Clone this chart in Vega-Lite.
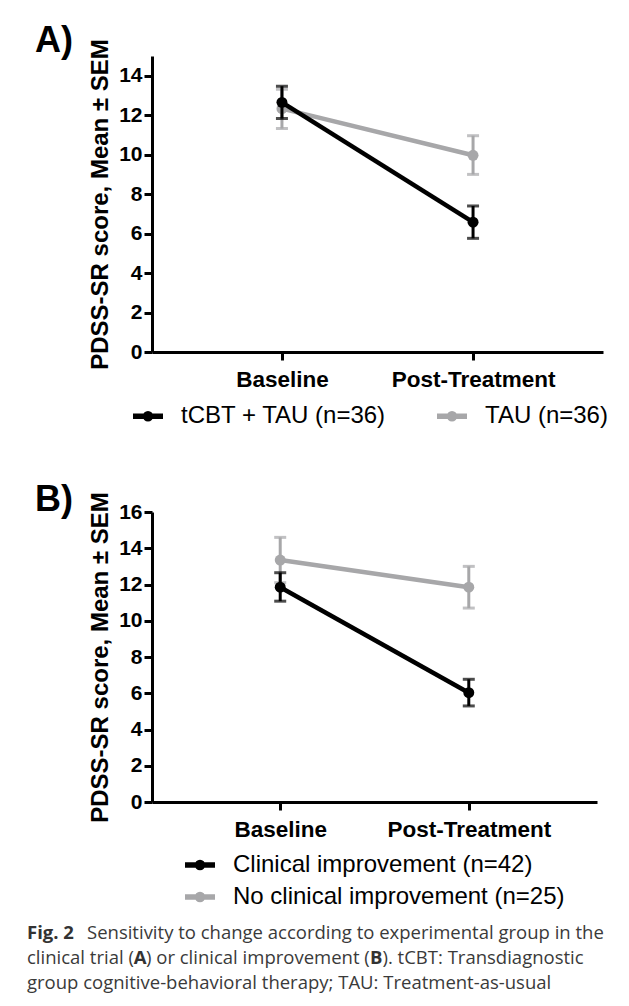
{
  "$schema": "https://vega.github.io/schema/vega-lite/v6.json",
  "padding": {"left": 27, "top": 22, "right": 0, "bottom": 0},
  "background": "white",
  "spacing": 9,
  "resolve": {"scale": {"color": "independent", "x": "independent", "y": "independent"}, "legend": {"color": "independent"}},
  "datasets": {
    "panelA": [
      {"group": "tCBT + TAU (n=36)", "time": "Baseline", "mean": 12.65, "lo": 11.83, "hi": 13.47},
      {"group": "tCBT + TAU (n=36)", "time": "Post-Treatment", "mean": 6.58, "lo": 5.76, "hi": 7.40},
      {"group": "TAU (n=36)", "time": "Baseline", "mean": 12.33, "lo": 11.32, "hi": 13.32},
      {"group": "TAU (n=36)", "time": "Post-Treatment", "mean": 9.97, "lo": 9.0, "hi": 10.96}
    ],
    "panelB": [
      {"group": "Clinical improvement (n=42)", "time": "Baseline", "mean": 11.85, "lo": 11.08, "hi": 12.65},
      {"group": "Clinical improvement (n=42)", "time": "Post-Treatment", "mean": 6.03, "lo": 5.3, "hi": 6.77},
      {"group": "No clinical improvement (n=25)", "time": "Baseline", "mean": 13.35, "lo": 12.1, "hi": 14.6},
      {"group": "No clinical improvement (n=25)", "time": "Post-Treatment", "mean": 11.85, "lo": 10.7, "hi": 13.0}
    ],
    "caption": [
      {"line": 1, "part": "label", "text": "Fig. 2"},
      {"line": 1, "part": "rest1", "text": "Sensitivity to change according to experimental group in the"},
      {"line": 2, "part": "s1", "text": "clinical trial ("},
      {"line": 2, "part": "bA", "text": "A"},
      {"line": 2, "part": "s2", "text": ") or clinical improvement ("},
      {"line": 2, "part": "bB", "text": "B"},
      {"line": 2, "part": "s3", "text": "). tCBT: Transdiagnostic"},
      {"line": 3, "part": "body", "text": "group cognitive-behavioral therapy; TAU: Treatment-as-usual"}
    ]
  },
  "config": {
    "view": {"stroke": null},
    "font": "Liberation Sans",
    "axis": {
      "domainColor": "black", "domainWidth": 3, "tickColor": "black", "tickWidth": 3, "tickSize": 8,
      "labelFont": "Liberation Sans", "labelFontWeight": "bold", "labelFontSize": 21, "labelColor": "black",
      "titleFont": "Liberation Sans", "titleColor": "black", "grid": false
    },
    "legend": {
      "orient": "none", "title": null,
      "symbolType": "M-1,0H1M-0.17,0A0.17,0.17 0 1,1 0.17,0A0.17,0.17 0 1,1 -0.17,0",
      "symbolSize": 900, "symbolStrokeWidth": 5.5, "symbolOpacity": 1,
      "labelFontSize": 24, "labelFont": "Liberation Sans", "labelColor": "black", "labelOffset": 15, "labelLimit": 400
    },
    "text": {"align": "left", "baseline": "middle", "font": "Open Sans", "fontSize": 18.5, "color": "#3a3a3a"},
    "title": {"font": "Liberation Sans", "fontWeight": "bold", "fontSize": 36, "color": "black", "anchor": "start", "frame": "group", "dx": -117}
  },
  "vconcat": [
    {
      "width": 451, "height": 296,
      "title": {"text": "A)", "offset": -21},
      "data": {"name": "panelA"},
      "encoding": {
        "x": {"field": "time", "type": "nominal", "sort": ["Baseline", "Post-Treatment"], "scale": {"type": "point", "padding": 0.68}, "axis": {"title": null, "labelAngle": 0, "labelPadding": 8, "labelFontSize": 22.5}},
        "y": {"field": "mean", "type": "quantitative", "scale": {"domain": [0, 15], "nice": false}, "axis": {"title": "PDSS-SR score, Mean ± SEM", "titleFontSize": 24, "titleFontWeight": "bold", "titlePadding": 6, "labelPadding": 2, "values": [0, 2, 4, 6, 8, 10, 12, 14]}},
        "color": {"field": "group", "type": "nominal", "scale": {"domain": ["tCBT + TAU (n=36)", "TAU (n=36)"], "range": ["#000000", "#a7a7a9"]}, "legend": {"legendX": -64, "legendY": 300, "padding": 42, "direction": "horizontal", "columnPadding": 40}}
      },
      "layer": [
        {
          "transform": [{"filter": "datum.group === 'TAU (n=36)'"}],
          "layer": [
            {"mark": {"type": "errorbar", "ticks": {"size": 12}, "thickness": 3}, "encoding": {"y": {"field": "lo", "type": "quantitative"}, "y2": {"field": "hi"}}},
            {"mark": {"type": "line", "strokeWidth": 4.5}},
            {"mark": {"type": "point", "filled": true, "size": 120, "opacity": 1}}
          ]
        },
        {
          "transform": [{"filter": "datum.group === 'tCBT + TAU (n=36)'"}],
          "layer": [
            {"mark": {"type": "errorbar", "ticks": {"size": 12}, "thickness": 3}, "encoding": {"y": {"field": "lo", "type": "quantitative"}, "y2": {"field": "hi"}}},
            {"mark": {"type": "line", "strokeWidth": 4.5}},
            {"mark": {"type": "point", "filled": true, "size": 120, "opacity": 1}}
          ]
        }
      ]
    },
    {
      "width": 445, "height": 290,
      "title": {"text": "B)", "offset": -27},
      "data": {"name": "panelB"},
      "encoding": {
        "x": {"field": "time", "type": "nominal", "sort": ["Baseline", "Post-Treatment"], "scale": {"type": "point", "padding": 0.68}, "axis": {"title": null, "labelAngle": 0, "labelPadding": 8, "labelFontSize": 22.5}},
        "y": {"field": "mean", "type": "quantitative", "scale": {"domain": [0, 16], "nice": false}, "axis": {"title": "PDSS-SR score, Mean ± SEM", "titleFontSize": 24, "titleFontWeight": "bold", "titlePadding": 6, "labelPadding": 2, "values": [0, 2, 4, 6, 8, 10, 12, 14, 16]}},
        "color": {"field": "group", "type": "nominal", "scale": {"domain": ["Clinical improvement (n=42)", "No clinical improvement (n=25)"], "range": ["#000000", "#a7a7a9"]}, "legend": {"legendX": 30, "legendY": 335, "direction": "vertical", "rowPadding": 0}}
      },
      "layer": [
        {
          "transform": [{"filter": "datum.group === 'No clinical improvement (n=25)'"}],
          "layer": [
            {"mark": {"type": "errorbar", "ticks": {"size": 12}, "thickness": 3}, "encoding": {"y": {"field": "lo", "type": "quantitative"}, "y2": {"field": "hi"}}},
            {"mark": {"type": "line", "strokeWidth": 4.5}},
            {"mark": {"type": "point", "filled": true, "size": 120, "opacity": 1}}
          ]
        },
        {
          "transform": [{"filter": "datum.group === 'Clinical improvement (n=42)'"}],
          "layer": [
            {"mark": {"type": "errorbar", "ticks": {"size": 12}, "thickness": 3}, "encoding": {"y": {"field": "lo", "type": "quantitative"}, "y2": {"field": "hi"}}},
            {"mark": {"type": "line", "strokeWidth": 4.5}},
            {"mark": {"type": "point", "filled": true, "size": 120, "opacity": 1}}
          ]
        }
      ]
    },
    {
      "width": 451, "height": 75,
      "data": {"name": "caption"},
      "encoding": {
        "y": {"field": "line", "type": "ordinal", "axis": null, "scale": {"type": "point", "padding": 0.5}},
        "x": {"value": 0},
        "text": {"field": "text"}
      },
      "layer": [
        {"transform": [{"filter": "datum.part === 'label'"}], "mark": {"type": "text", "fontWeight": "bold", "color": "#333333", "dx": -125}},
        {"transform": [{"filter": "datum.part === 'rest1'"}], "mark": {"type": "text", "dx": -65}},
        {"transform": [{"filter": "datum.part === 's1' || datum.part === 'body'"}], "mark": {"type": "text", "dx": -125}},
        {"transform": [{"filter": "datum.part === 'bA'"}], "mark": {"type": "text", "fontWeight": "bold", "color": "#333333", "dx": -18.2}},
        {"transform": [{"filter": "datum.part === 's2'"}], "mark": {"type": "text", "dx": -6.0}},
        {"transform": [{"filter": "datum.part === 'bB'"}], "mark": {"type": "text", "fontWeight": "bold", "color": "#333333", "dx": 218.1}},
        {"transform": [{"filter": "datum.part === 's3'"}], "mark": {"type": "text", "dx": 230.5}}
      ]
    }
  ]
}
